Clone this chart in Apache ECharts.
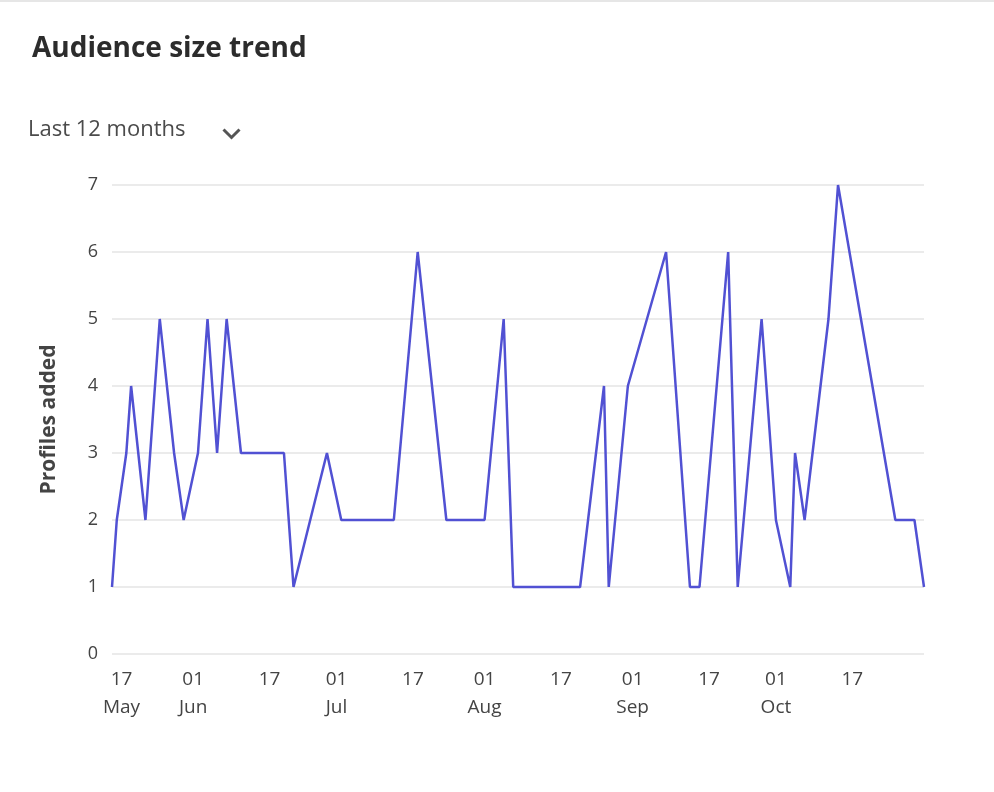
<!DOCTYPE html>
<html>
<head>
<meta charset="utf-8">
<script src="https://cdn.jsdelivr.net/npm/echarts@6/dist/echarts.min.js"></script>
<style>
  html, body { margin: 0; padding: 0; background: #fff; }
  #chart { width: 994px; height: 792px; border-top: 2px solid #e6e6e6; box-sizing: border-box; }
</style>
</head>
<body>
<div id="chart"></div>
<script>
// dates and profiles added per day
var dates = ['2023-05-15','2023-05-16','2023-05-18','2023-05-19','2023-05-22','2023-05-25','2023-05-28','2023-05-30',
  '2023-06-02','2023-06-04','2023-06-06','2023-06-08','2023-06-11','2023-06-20','2023-06-22','2023-06-29',
  '2023-07-02','2023-07-13','2023-07-18','2023-07-24','2023-08-01','2023-08-05','2023-08-07','2023-08-21',
  '2023-08-26','2023-08-27','2023-08-31','2023-09-08','2023-09-13','2023-09-15','2023-09-21','2023-09-23',
  '2023-09-28','2023-10-01','2023-10-04','2023-10-05','2023-10-07','2023-10-12','2023-10-14','2023-10-26',
  '2023-10-30','2023-11-01'];
var profiles = [1,2,3,4,2,5,3,2, 3,5,3,5,3,3,1,3, 2,2,6,2,2,5,1,1, 4,1,4,6,1,1,6,1, 5,2,1,3,2,5,7,2, 2,1];
var tickDates = ['2023-05-17','2023-06-01','2023-06-17','2023-07-01','2023-07-17','2023-08-01','2023-08-17',
  '2023-09-01','2023-09-17','2023-10-01','2023-10-17'];
var months = ['Jan','Feb','Mar','Apr','May','Jun','Jul','Aug','Sep','Oct','Nov','Dec'];

var ts = function (s) { return new Date(s + 'T00:00:00').getTime(); };
var seriesData = [];
for (var i = 0; i < dates.length; i++) {
    seriesData.push([ts(dates[i]), profiles[i]]);
}
var tickValues = tickDates.map(ts);

var myChart = echarts.init(document.getElementById('chart'));
var option = {
    textStyle: { fontFamily: 'Open Sans' },
    title: {
        text: 'Audience size trend',
        left: 27, top: 28,
        textStyle: { fontSize: 28, fontWeight: 'bold', color: '#2c2c2c', fontFamily: 'Open Sans' }
    },
    graphic: [{
        type: 'text', left: 28, top: 117,
        style: { text: 'Last 12 months', fontSize: 22, fill: '#4b4b4b', fontFamily: 'Open Sans' }
    }, {
        type: 'polyline', left: 221, top: 125,
        shape: { points: [[0, 0], [8, 8], [16, 0]] },
        style: { stroke: '#555', lineWidth: 3, fill: null }
    }],
    grid: { left: 112, right: 70, top: 183, bottom: 138 },
    xAxis: {
        type: 'value',
        min: ts('2023-05-15'),
        max: ts('2023-11-01'),
        axisLine: { show: false },
        axisTick: { show: false },
        splitLine: { show: false },
        axisLabel: {
            customValues: tickValues,
            color: '#444', fontSize: 19, lineHeight: 28, margin: 12,
            formatter: function (v) {
                var d = new Date(v);
                var day = ('0' + d.getDate()).slice(-2);
                if (d.getDate() === 1 || v === tickValues[0]) {
                    return day + '\n' + months[d.getMonth()];
                }
                return day;
            }
        }
    },
    yAxis: {
        type: 'value',
        min: 0, max: 7, interval: 1,
        name: 'Profiles added',
        nameLocation: 'middle',
        nameGap: 52,
        nameTextStyle: { fontSize: 21, fontWeight: 'bold', color: '#444' },
        axisLine: { show: false },
        axisTick: { show: false },
        axisLabel: { color: '#444', fontSize: 18, margin: 14 },
        splitLine: { lineStyle: { color: '#e4e4e4', width: 1.5 } }
    },
    series: [{
        type: 'line',
        data: seriesData,
        showSymbol: false,
        lineStyle: { color: '#5151d3', width: 2.5 },
        itemStyle: { color: '#5151d3' }
    }]
};
myChart.setOption(option);
</script>
</body>
</html>
